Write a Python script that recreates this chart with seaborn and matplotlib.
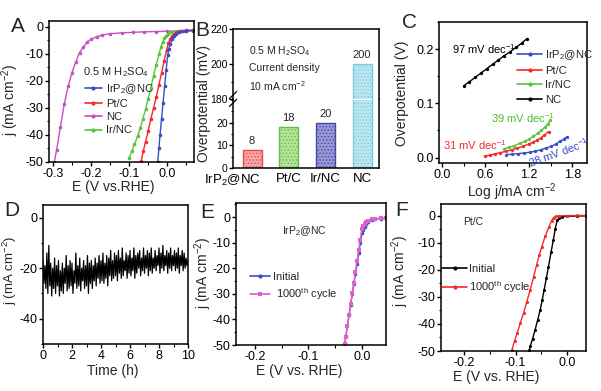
import numpy as np
import pandas as pd
import matplotlib
matplotlib.use('Agg')
import matplotlib.pyplot as plt
import seaborn as sns
from matplotlib.ticker import MultipleLocator, FormatStrFormatter
from matplotlib.lines import Line2D
from matplotlib.transforms import ScaledTranslation

# ---------------- data ----------------
# Panel A: HER polarization curves (E in V vs RHE, j in mA cm-2)
a_irp2_E = [0.068, 0.05, 0.04, 0.03, 0.024, 0.018, 0.013, 0.008, 0.004, 0.001, -0.003, -0.007, -0.011, -0.015, -0.019, -0.022, -0.025]
a_irp2_j = [-1.4, -1.5, -1.6, -1.9, -2.5, -3.3, -4.5, -6.3, -8.0, -10.5, -16, -22, -28, -34, -40, -45, -50]
a_pt_E = [0.068, 0.05, 0.035, 0.025, 0.018, 0.012, 0.007, 0.003, -0.002, -0.008, -0.015, -0.022, -0.029, -0.036, -0.043, -0.050, -0.057, -0.063, -0.068]
a_pt_j = [-1.2, -1.3, -1.6, -2.0, -2.6, -3.5, -4.6, -6.0, -8.5, -12.5, -17, -21.5, -26, -30, -34, -38.5, -42.5, -46, -49.5]
a_nc_E = [0.068, 0.03, 0.0, -0.03, -0.06, -0.09, -0.12, -0.15, -0.17, -0.185, -0.2, -0.21, -0.22, -0.23, -0.24, -0.25, -0.26, -0.27, -0.28, -0.29, -0.296]
a_nc_j = [-1.2, -1.4, -1.6, -1.7, -1.8, -2.0, -2.2, -2.5, -3.0, -3.6, -4.6, -5.6, -7.5, -9.5, -13, -17, -22, -28.5, -37, -45.5, -50]
a_ir_E = [0.068, 0.05, 0.035, 0.02, 0.01, 0.003, -0.003, -0.008, -0.012, -0.017, -0.022, -0.029, -0.036, -0.043, -0.050, -0.057, -0.064, -0.071, -0.078, -0.086, -0.093, -0.100]
a_ir_j = [-1.3, -1.4, -1.5, -1.7, -2.0, -2.5, -3.2, -4.2, -5.4, -7.6, -10.2, -14, -18, -22.5, -26.5, -30.5, -34, -37.5, -40.5, -43.5, -46, -48.5]

# Panel B: overpotential at 10 mA cm-2
b_cats = ['IrP$_2$@NC', 'Pt/C', 'Ir/NC', 'NC']
b_vals = [8, 18, 20, 200]

# Panel C: Tafel plots
c_nc_L = [0.30, 0.38, 0.46, 0.54, 0.62, 0.70, 0.78, 0.86, 0.94, 1.02, 1.10, 1.17]
c_nc_eta = [0.132, 0.140, 0.148, 0.156, 0.164, 0.172, 0.180, 0.188, 0.195, 0.203, 0.211, 0.219]
c_pt_L = [0.59, 0.66, 0.73, 0.80, 0.89, 0.96, 1.04, 1.12, 1.20, 1.26, 1.31, 1.36, 1.41, 1.47]
c_pt_eta = [0.0024, 0.0045, 0.0068, 0.009, 0.0116, 0.0145, 0.0175, 0.021, 0.025, 0.0285, 0.032, 0.036, 0.041, 0.048]
c_ir_L = [0.85, 0.93, 1.00, 1.07, 1.14, 1.20, 1.26, 1.32, 1.37, 1.42, 1.46, 1.49]
c_ir_eta = [0.016, 0.019, 0.022, 0.026, 0.030, 0.034, 0.039, 0.045, 0.050, 0.056, 0.062, 0.069]
c_irp2_L = [0.89, 0.97, 1.05, 1.13, 1.21, 1.29, 1.36, 1.44, 1.51, 1.57, 1.63, 1.68, 1.72]
c_irp2_eta = [0.0055, 0.0062, 0.0072, 0.0084, 0.0098, 0.0118, 0.0143, 0.0178, 0.021, 0.025, 0.030, 0.034, 0.038]

# Panel D: chronoamperometry (10 h)
d_j = [-17, -26, -19, -28, -14, -30, -11, -27, -18, -31, -20, -28, -16, -30, -19,
       -27, -17, -31, -21, -29, -18, -30, -20, -26, -15, -29, -19, -28, -17, -27,
       -18, -30, -21, -26, -14, -28, -19, -27, -16, -29, -20, -25, -17, -28, -19,
       -27, -15, -30, -18, -26, -17, -28, -19, -25, -16, -27, -18, -24, -15, -26,
       -17, -25, -14, -26, -18, -24, -15, -27, -16, -23, -13, -25, -17, -24, -14,
       -23, -15, -25, -13, -22, -16, -24, -12, -23, -17, -21, -14, -24, -15, -22,
       -13, -23, -16, -21, -12, -24, -15, -22, -14, -20, -13, -23, -16, -21, -12,
       -22, -15, -20, -13, -23, -14, -21, -12, -22, -16, -20, -13, -21, -15, -19,
       -12, -22, -14, -20, -11, -21, -15, -19, -13, -22, -14, -20, -12, -21, -15,
       -19, -13, -21, -14, -20, -12, -22, -15, -19, -13, -21, -14, -20, -16, -19, -17]
d_t = np.linspace(0, 10, len(d_j))

# Panel E: IrP2@NC stability
e_E = [0.045, 0.035, 0.025, 0.018, 0.012, 0.008, 0.005, 0.002, 0.0, -0.003, -0.006, -0.009, -0.012, -0.015, -0.018, -0.021, -0.024, -0.027, -0.030, -0.032]
e_init_j = [-0.5, -0.6, -0.8, -1.2, -1.9, -2.9, -3.9, -5.2, -6.4, -10.2, -14.2, -18.2, -22.2, -26.2, -30.2, -34.3, -38.4, -42.5, -46.6, -49.4]
e_cyc_j = [-0.4, -0.5, -0.6, -0.9, -1.4, -2.0, -2.6, -3.4, -4.6, -8.8, -13, -17.2, -21.4, -25.6, -29.8, -34, -38.3, -42.5, -46.7, -49.6]

# Panel F: Pt/C stability
f_init_E = [0.037, 0.02, 0.0, -0.010, -0.015, -0.019, -0.023, -0.0265, -0.031, -0.036, -0.040, -0.0445, -0.048, -0.052, -0.057, -0.062, -0.067, -0.071, -0.073]
f_init_j = [0.0, -0.05, -0.1, -0.3, -0.7, -1.5, -5.0, -8.9, -13.5, -18.8, -23, -27.4, -31, -34.8, -38.5, -42.2, -45.5, -48, -49.5]
f_cyc_E = [0.037, 0.02, 0.0, -0.015, -0.022, -0.026, -0.030, -0.035, -0.0425, -0.049, -0.054, -0.059, -0.065, -0.0716, -0.078, -0.0845, -0.091, -0.097, -0.102, -0.107]
f_cyc_j = [0.2, 0.15, 0.1, 0.0, -0.2, -0.6, -1.8, -4.0, -7.6, -11.4, -14.6, -18.1, -22.6, -27.4, -31.7, -36, -39.8, -43.5, -46.3, -49.5]

# ---------------- style ----------------
sns.set_theme(style='ticks')
plt.rcParams['font.family'] = ['Liberation Sans', 'DejaVu Sans']
plt.rcParams.update({
    'mathtext.fontset': 'custom', 'mathtext.rm': 'Liberation Sans',
    'mathtext.it': 'Liberation Sans:italic', 'mathtext.bf': 'Liberation Sans:bold',
    'mathtext.default': 'regular', 'axes.unicode_minus': False,
    'axes.linewidth': 1.1, 'axes.edgecolor': 'black',
    'xtick.color': 'black', 'ytick.color': 'black',
    'xtick.major.width': 1, 'ytick.major.width': 1,
    'xtick.minor.width': 0.8, 'ytick.minor.width': 0.8,
    'xtick.major.size': 3, 'ytick.major.size': 3,
    'xtick.minor.size': 1.8, 'ytick.minor.size': 1.8,
    'xtick.labelsize': 9, 'ytick.labelsize': 9, 'axes.labelsize': 10,
    'xtick.major.pad': 1.2, 'ytick.major.pad': 0.8, 'axes.labelpad': 1,
    'hatch.linewidth': 0.6,
})

W, H = 601, 391
fig = plt.figure(figsize=(W / 100, H / 100), dpi=100)


def add_ax(l, t, r, b):
    return fig.add_axes([l / W, 1 - b / H, (r - l) / W, (b - t) / H])


def place_labels(ax, box, xl, yl):
    """box = (left, top, right, bottom) px; xl / yl = label centre in px."""
    l, t, r, b = box
    w, h = r - l, b - t
    if xl is not None:
        ax.xaxis.set_label_coords((xl[0] - l) / w, -(xl[1] - b) / h)
        ax.xaxis.label.set_verticalalignment('center')
    if yl is not None:
        ax.yaxis.set_label_coords((yl[0] - l) / w, (b - yl[1]) / h)
        ax.yaxis.label.set_verticalalignment('center')


def curve(ax, x, y, color, marker='o', ms=2.6, lw=1.0):
    sns.lineplot(x=x, y=y, ax=ax, color=color, marker=marker, markersize=ms,
                 markeredgewidth=0, linewidth=lw, sort=False, estimator=None, legend=False)


def handle(color, marker='o', lw=1.2, ms=3):
    return Line2D([], [], color=color, marker=marker, lw=lw, ms=ms, markeredgewidth=0)


BLUE, RED, PINK, GREEN = '#3a4dc4', '#f42a2a', '#c054c0', '#5cc43c'

# ---------------- Panel A ----------------
boxA = (49, 21, 194, 162)
axA = add_ax(*boxA)
curve(axA, a_nc_E, a_nc_j, PINK)
curve(axA, a_ir_E, a_ir_j, GREEN)
curve(axA, a_pt_E, a_pt_j, RED)
curve(axA, a_irp2_E, a_irp2_j, BLUE)
axA.set_xlim(-0.31, 0.07)
axA.set_ylim(-50, 2.2)
axA.xaxis.set_major_locator(MultipleLocator(0.1))
axA.xaxis.set_minor_locator(MultipleLocator(0.05))
axA.xaxis.set_major_formatter(FormatStrFormatter('%.1f'))
axA.yaxis.set_major_locator(MultipleLocator(10))
axA.yaxis.set_minor_locator(MultipleLocator(5))
axA.set_xlabel('E (V vs.RHE)')
axA.set_ylabel('j (mA cm$^{-2}$)')
place_labels(axA, boxA, (113, 187), (10, 100))
axA.text(0.235, 0.64, '0.5 M H$_2$SO$_4$', transform=axA.transAxes, fontsize=8, va='center')
axA.legend([handle(BLUE), handle(RED), handle(PINK), handle(GREEN)],
           ['IrP$_2$@NC', 'Pt/C', 'NC', 'Ir/NC'], loc='upper left',
           bbox_to_anchor=(0.245, 0.565), frameon=False, fontsize=8,
           handlelength=1.6, handletextpad=0.3, labelspacing=0.28, borderpad=0, borderaxespad=0)

# ---------------- Panel B (broken axis) ----------------
axB_lo = add_ax(233, 99, 379, 168)
axB_hi = add_ax(233, 29, 379, 99)
fills = ['#f7a8a8', '#b4e49c', '#9898d6', '#bfe6f0']
edges = ['#f04848', '#62c046', '#4646a6', '#74cde0']
for ax in (axB_lo, axB_hi):
    sns.barplot(x=b_cats, y=b_vals, hue=b_cats, palette=fills, legend=False,
                width=0.52, ax=ax, saturation=1)
    for p, ec in zip(ax.patches, edges):
        p.set_edgecolor(ec)
        p.set_hatch('.....')
        p.set_linewidth(1.0)
    ax.set_xlim(-0.52, 3.46)
    ax.tick_params(axis='y', labelsize=7.5)
    ax.set_ylabel('')
axB_lo.set_ylim(0, 30.5)
axB_hi.set_ylim(180, 220)
axB_lo.spines['top'].set_visible(False)
axB_hi.spines['bottom'].set_visible(False)
axB_hi.tick_params(axis='x', bottom=False, labelbottom=False)
axB_lo.tick_params(axis='x', length=0, labelsize=9.5, pad=3.5)
axB_lo.set_yticks([0, 10, 20])
axB_lo.yaxis.set_minor_locator(MultipleLocator(5))
axB_hi.yaxis.set_major_locator(MultipleLocator(20))
axB_hi.yaxis.set_minor_locator(MultipleLocator(10))
first = axB_lo.get_xticklabels()[0]
first.set_transform(first.get_transform() + ScaledTranslation(-0.2, 0, fig.dpi_scale_trans))
for i in range(3):
    axB_lo.bar_label(axB_lo.containers[i], padding=3, fontsize=8)
axB_hi.bar_label(axB_hi.containers[3], padding=3, fontsize=8)
# white gap across the tall bar at the break
pNC = axB_lo.patches[3]
axB_lo.plot([pNC.get_x() + 0.02, pNC.get_x() + pNC.get_width() - 0.02], [30.5, 30.5],
            color='white', lw=1.6, clip_on=False, zorder=5)
# break marks on the left spine
for dy in (-0.010, 0.010):
    fig.add_artist(Line2D([233 / W - 0.006, 233 / W + 0.006],
                          [1 - 99 / H + dy - 0.009, 1 - 99 / H + dy + 0.009],
                          color='black', lw=0.9))
fig.text(204 / W, 1 - 104 / H, 'Overpotential (mV)', rotation=90, fontsize=10,
         ha='center', va='center')
axB_hi.text(0.11, 0.78, '0.5 M H$_2$SO$_4$\nCurrent density\n10 mA cm$^{-2}$',
            transform=axB_hi.transAxes, fontsize=7.5, va='top', linespacing=1.55)

# ---------------- Panel C ----------------
boxC = (439, 22, 587, 163)
axC = add_ax(*boxC)
curve(axC, c_nc_L, c_nc_eta, 'black', ms=2.4)
curve(axC, c_pt_L, c_pt_eta, RED, ms=2.4)
curve(axC, c_ir_L, c_ir_eta, GREEN, ms=2.4)
curve(axC, c_irp2_L, c_irp2_eta, BLUE, ms=2.4)
axC.set_xlim(-0.04, 2.0)
axC.set_ylim(-0.01, 0.25)
axC.xaxis.set_major_locator(MultipleLocator(0.6))
axC.xaxis.set_minor_locator(MultipleLocator(0.3))
axC.xaxis.set_major_formatter(FormatStrFormatter('%.1f'))
axC.yaxis.set_major_locator(MultipleLocator(0.1))
axC.yaxis.set_minor_locator(MultipleLocator(0.05))
axC.yaxis.set_major_formatter(FormatStrFormatter('%.1f'))
axC.set_xlabel('Log j/mA cm$^{-2}$')
axC.set_ylabel('Overpotential (V)')
place_labels(axC, boxC, (512, 192), (402, 93))
axC.legend([handle(BLUE), handle(RED), handle(GREEN), handle('black')],
           ['IrP$_2$@NC', 'Pt/C', 'Ir/NC', 'NC'], loc='upper left',
           bbox_to_anchor=(0.53, 0.815), frameon=False, fontsize=8,
           handlelength=2.2, handletextpad=0.3, labelspacing=0.38, borderpad=0, borderaxespad=0)
axC.text(0.09, 0.81, '97 mV dec$^{-1}$', transform=axC.transAxes, fontsize=8, color='black', va='center')
axC.text(0.35, 0.32, '39 mV dec$^{-1}$', transform=axC.transAxes, fontsize=8, color='#4cbc2c', va='center')
axC.text(0.03, 0.13, '31 mV dec$^{-1}$', transform=axC.transAxes, fontsize=8, color=RED, va='center')
axC.text(0.81, 0.075, '28 mV dec$^{-1}$', transform=axC.transAxes, fontsize=8, color=BLUE,
         va='center', ha='center', rotation=20)

# ---------------- Panel D ----------------
boxD = (43, 205, 188, 344)
axD = add_ax(*boxD)
sns.lineplot(x=d_t, y=d_j, ax=axD, color='black', linewidth=0.9, sort=False, estimator=None)
axD.set_xlim(0, 10)
axD.set_ylim(-50, 5)
axD.xaxis.set_major_locator(MultipleLocator(2))
axD.xaxis.set_minor_locator(MultipleLocator(1))
axD.yaxis.set_major_locator(MultipleLocator(20))
axD.yaxis.set_minor_locator(MultipleLocator(10))
axD.set_xlabel('Time (h)')
axD.set_ylabel('j (mA cm$^{-2}$)', fontsize=9.5)
place_labels(axD, boxD, (113, 371), (10, 270))

# ---------------- Panel E ----------------
boxE = (236, 203, 386, 345)
axE = add_ax(*boxE)
curve(axE, e_E, e_init_j, BLUE, ms=2.6)
curve(axE, e_E, e_cyc_j, '#e060c8', marker='s', ms=2.2)
axE.set_xlim(-0.235, 0.045)
axE.set_ylim(-50, 5.5)
axE.xaxis.set_major_locator(MultipleLocator(0.1))
axE.xaxis.set_minor_locator(MultipleLocator(0.05))
axE.xaxis.set_major_formatter(FormatStrFormatter('%.1f'))
axE.yaxis.set_major_locator(MultipleLocator(10))
axE.yaxis.set_minor_locator(MultipleLocator(5))
axE.set_xlabel('E (V vs. RHE)')
axE.set_ylabel('j (mA cm$^{-2}$)')
place_labels(axE, boxE, (299, 371), (203, 273))
axE.text(0.31, 0.80, 'IrP$_2$@NC', transform=axE.transAxes, fontsize=7.5, va='center')
axE.legend([handle(BLUE), handle('#e060c8', marker='s')],
           ['Initial', ' 1000$^{th}$ cycle'], loc='upper left',
           bbox_to_anchor=(0.09, 0.515), frameon=False, fontsize=8,
           handlelength=1.8, handletextpad=0.3, labelspacing=0.4, borderpad=0, borderaxespad=0)

# ---------------- Panel F ----------------
boxF = (441, 204, 586, 351)
axF = add_ax(*boxF)
curve(axF, f_init_E, f_init_j, 'black', ms=2.2)
curve(axF, f_cyc_E, f_cyc_j, RED, ms=2.2)
axF.set_xlim(-0.245, 0.037)
axF.set_ylim(-50, 4.4)
axF.xaxis.set_major_locator(MultipleLocator(0.1))
axF.xaxis.set_minor_locator(MultipleLocator(0.05))
axF.xaxis.set_major_formatter(FormatStrFormatter('%.1f'))
axF.yaxis.set_major_locator(MultipleLocator(10))
axF.yaxis.set_minor_locator(MultipleLocator(5))
axF.set_xlabel('E (V vs. RHE)')
axF.set_ylabel('j (mA cm$^{-2}$)')
place_labels(axF, boxF, (496, 377), (400, 271))
axF.text(0.15, 0.88, 'Pt/C', transform=axF.transAxes, fontsize=7.5, va='center')
axF.legend([handle('black'), handle(RED)],
           ['Initial', '1000$^{th}$ cycle'], loc='upper left',
           bbox_to_anchor=(0.01, 0.59), frameon=False, fontsize=8,
           handlelength=2.2, handletextpad=0.2, labelspacing=0.4, borderpad=0, borderaxespad=0)

# ---------------- panel letters ----------------
for lbl, x, y in [('A', 18, 27), ('B', 202, 31), ('C', 410, 23),
                  ('D', 12, 210), ('E', 207, 212), ('F', 402, 210)]:
    fig.text(x / W, 1 - y / H, lbl, fontsize=15, ha='center', va='center')

fig.savefig('out.png', dpi=100)
